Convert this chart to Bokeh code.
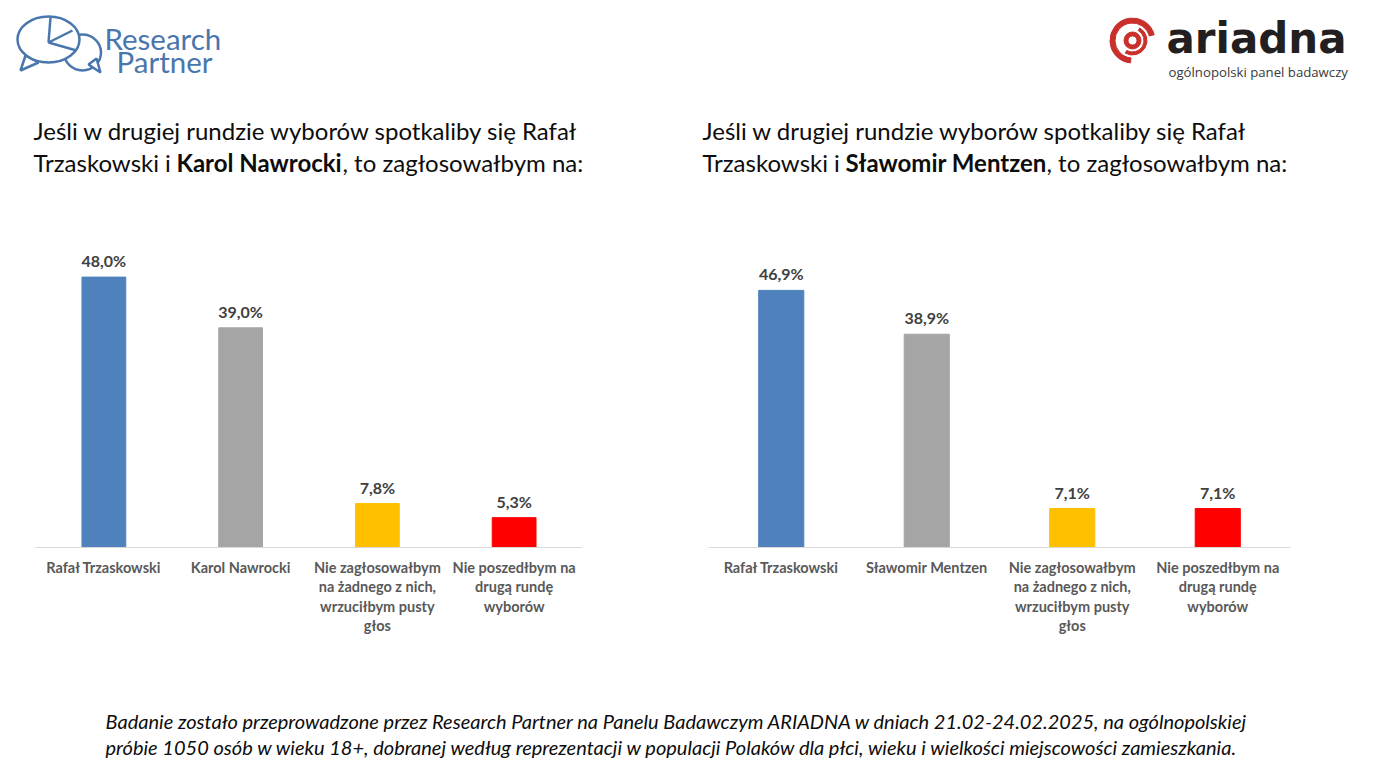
import math
from bokeh.plotting import figure
from bokeh.layouts import column, row
from bokeh.models import ColumnDataSource, Range1d, FactorRange
from bokeh.core.properties import value
from bokeh.embed import file_html
from bokeh.resources import INLINE

# ---------------- data ----------------
left_categories = [
    "Rafał Trzaskowski",
    "Karol Nawrocki",
    "Nie zagłosowałbym\nna żadnego z nich,\nwrzuciłbym pusty\ngłos",
    "Nie poszedłbym na\ndrugą rundę\nwyborów",
]
left_values = [48.0, 39.0, 7.8, 5.3]

right_categories = [
    "Rafał Trzaskowski",
    "Sławomir Mentzen",
    "Nie zagłosowałbym\nna żadnego z nich,\nwrzuciłbym pusty\ngłos",
    "Nie poszedłbym na\ndrugą rundę\nwyborów",
]
right_values = [46.9, 38.9, 7.1, 7.1]

bar_colors = ["#4f81bd", "#a5a5a5", "#ffc000", "#ff0000"]

title_line1 = "Jeśli w drugiej rundzie wyborów spotkaliby się Rafał"
title_pre = "Trzaskowski i "
left_bold = "Karol Nawrocki"
right_bold = "Sławomir Mentzen"
title_post = ", to zagłosowałbym na:"

footer_lines = [
    "Badanie zostało przeprowadzone przez Research Partner na Panelu Badawczym ARIADNA w dniach 21.02-24.02.2025, na ogólnopolskiej",
    "próbie 1050 osób w wieku 18+, dobranej według reprezentacji w populacji Polaków dla płci, wieku i wielkości miejscowości zamieszkania.",
]

FONT = "Lato"
W = 1367
HEADER_H = 230
CHART_H = 430
FOOTER_H = 106


def fmt(v):
    return f"{v:.1f}".replace(".", ",") + "%"


def make_chart(cats, vals, width, bl, br, y_end, bar_w):
    src = ColumnDataSource(dict(cat=cats, val=vals, color=bar_colors,
                                label=[fmt(v) for v in vals]))
    p = figure(x_range=FactorRange(*cats), y_range=Range1d(0, y_end),
               width=width, height=CHART_H, output_backend="svg",
               toolbar_location=None, y_axis_location=None,
               min_border_left=bl, min_border_right=br,
               min_border_top=10, min_border_bottom=113)
    p.vbar(x="cat", top="val", width=bar_w, color="color", source=src)
    p.text(x="cat", y="val", text="label", source=src,
           text_align="center", text_baseline="bottom", y_offset=-7,
           text_font=value(FONT), text_font_style="bold",
           text_font_size="16px", text_color="#404040")
    p.xgrid.visible = False
    p.ygrid.visible = False
    p.outline_line_color = None
    xa = p.xaxis[0]
    xa.axis_line_color = "#d9d9d9"
    xa.axis_line_width = 1
    xa.major_tick_line_color = None
    xa.minor_tick_line_color = None
    xa.major_tick_out = 0
    xa.major_tick_in = 0
    xa.major_label_standoff = 11
    xa.major_label_text_font = FONT
    xa.major_label_text_font_style = "bold"
    xa.major_label_text_font_size = "14.5px"
    xa.major_label_text_color = "#595959"
    xa.major_label_text_line_height = 1.15
    return p


left = make_chart(left_categories, left_values, 650, 35, 68, 54.5, 0.32)
right = make_chart(right_categories, right_values, 717, 58, 77, 56.0, 0.31)

# ---------------- header ----------------
h = figure(width=W, height=HEADER_H, x_range=Range1d(0, W), y_range=Range1d(HEADER_H, 0),
           output_backend="svg", toolbar_location=None,
           x_axis_type=None, y_axis_type=None, min_border=0)
h.xgrid.visible = False
h.ygrid.visible = False
h.outline_line_color = None

blue = "#4a76ae"
# Research Partner icon: small bubble behind, big bubble in front
h.ellipse(x=[82], y=[52], width=[37], height=[36], fill_color="white",
          line_color=blue, line_width=2.5)
h.patch(x=[88, 100, 96], y=[64, 72, 58], fill_color="white", line_color=blue, line_width=2.5)
h.patch(x=[25, 20, 38], y=[55, 70, 62], fill_color="white", line_color=blue, line_width=2.5)
h.ellipse(x=[48], y=[39], width=[62], height=[46], fill_color="white",
          line_color=blue, line_width=2.5)
h.multi_line(xs=[[48, 50], [48, 72], [48, 76]], ys=[[42, 17], [42, 30], [42, 50]],
             line_color=blue, line_width=2.5)
h.text(x=[104], y=[38], text=["Research"], text_font=value(FONT), text_font_size="29.5px",
       text_color=blue, text_baseline="middle", text_align="left")
h.text(x=[116], y=[61], text=["Partner"], text_font=value(FONT), text_font_size="29.5px",
       text_color=blue, text_baseline="middle", text_align="left")

# ariadna logo
red = "#c9302c"
cx, cy = 1132, 40
h.annular_wedge(x=[cx], y=[cy], inner_radius=[17.5], outer_radius=[22.5],
                start_angle=[math.radians(15)], end_angle=[math.radians(265)],
                color=red)
h.annular_wedge(x=[cx], y=[cy], inner_radius=[11.5], outer_radius=[14.5],
                start_angle=[math.radians(240)], end_angle=[math.radians(420)],
                color=red)
h.annulus(x=[cx], y=[cy], inner_radius=[4.5], outer_radius=[8.5], color=red)
h.text(x=[1166], y=[38], text=["ariadna"], text_font=value("DejaVu Sans"),
       text_font_style="bold", text_font_size="42px", text_color="#231f20",
       text_baseline="middle", text_align="left")
h.text(x=[1168], y=[71], text=["ogólnopolski panel badawczy"], text_font=value("Open Sans"),
       text_font_size="13.2px", text_color="#3a3a3a", text_baseline="middle", text_align="left")

# titles
TS = "24px"
for x0, bold, bx, px in [(33, left_bold, 176, 342), (702, right_bold, 845, 1046)]:
    h.text(x=[x0], y=[130], text=[title_line1], text_font=value(FONT), text_font_size=TS,
           text_color="#0d0d0d", text_baseline="middle", text_align="left")
    h.text(x=[x0], y=[162], text=[title_pre], text_font=value(FONT), text_font_size=TS,
           text_color="#0d0d0d", text_baseline="middle", text_align="left")
    h.text(x=[bx], y=[162], text=[bold], text_font=value(FONT), text_font_size=TS,
           text_font_style="bold", text_color="#0d0d0d", text_baseline="middle",
           text_align="left")
    h.text(x=[px], y=[162], text=[title_post], text_font=value(FONT), text_font_size=TS,
           text_color="#0d0d0d", text_baseline="middle", text_align="left")

# ---------------- footer ----------------
f = figure(width=W, height=FOOTER_H, x_range=Range1d(0, W), y_range=Range1d(FOOTER_H, 0),
           output_backend="svg", toolbar_location=None,
           x_axis_type=None, y_axis_type=None, min_border=0)
f.xgrid.visible = False
f.ygrid.visible = False
f.outline_line_color = None
f.text(x=[105, 105], y=[60, 86], text=footer_lines, text_font=value(FONT),
       text_font_style="italic", text_font_size="20px", text_color="#0d0d0d",
       text_baseline="middle", text_align="left")

layout = column(h, row(left, right), f)
open("out.html", "w").write(file_html(layout, INLINE))
